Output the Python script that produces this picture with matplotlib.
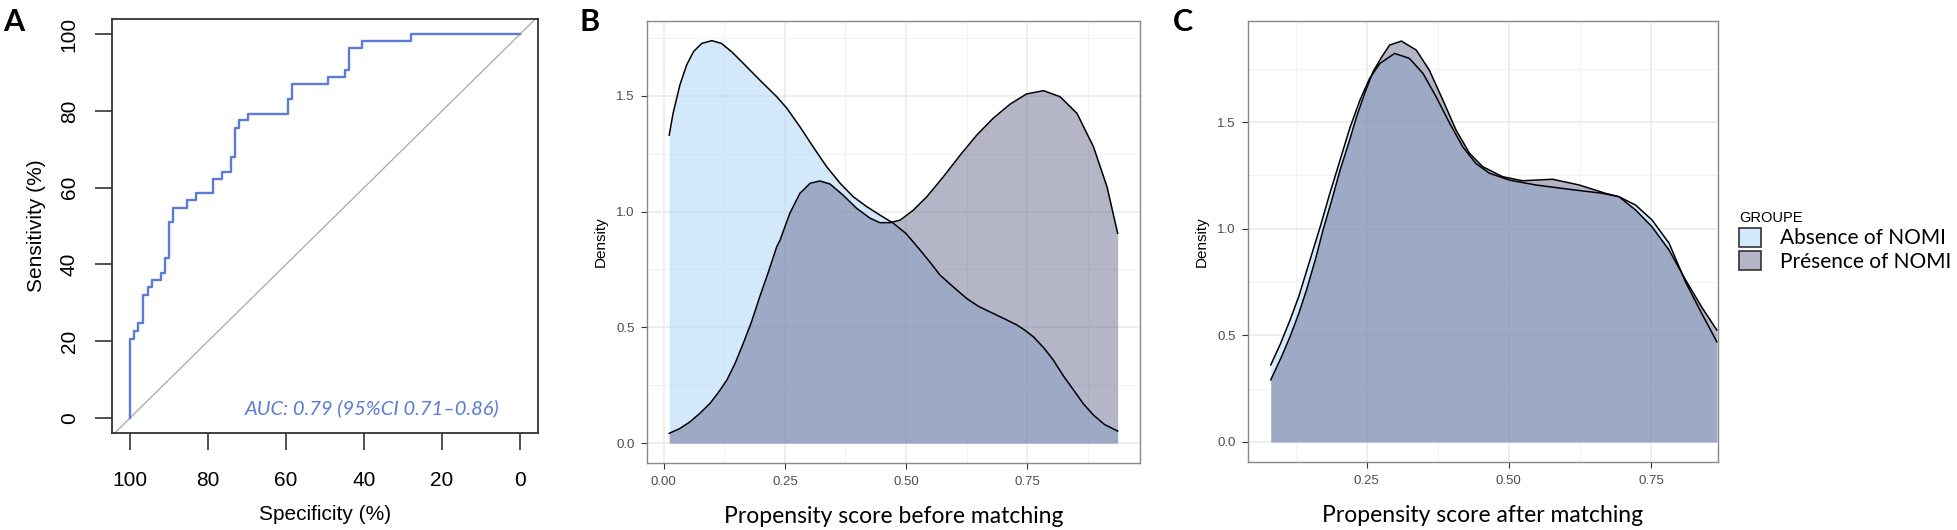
import matplotlib
matplotlib.use('Agg')
import matplotlib.pyplot as plt
from matplotlib.patches import Patch
from matplotlib.colors import to_rgba

# ROC curve (panel A), step corners
spec = [100, 100, 98.9, 97.9, 96.6, 95.5, 94.3, 92.1, 91.0, 89.9, 88.9, 85.5, 83.1, 78.6,
        76.5, 74.2, 73.0, 72.0, 69.7, 59.6, 58.5, 49.3, 45.0, 43.8, 40.4, 28.0, 0]
sens = [0, 20.7, 22.7, 24.7, 32.0, 34.0, 35.9, 37.8, 41.6, 51.0, 54.8, 56.7, 58.5, 62.2,
        64.1, 68.0, 75.6, 77.6, 79.3, 83.1, 86.9, 88.7, 90.6, 96.3, 98.2, 100, 100]
auc_text = 'AUC: 0.79 (95%CI 0.71–0.86)'

# panel B: densities before matching
b_abs_x = [0.011, 0.019, 0.033, 0.047, 0.061, 0.078, 0.099, 0.119, 0.140, 0.164, 0.198, 0.233,
           0.254, 0.281, 0.308, 0.336, 0.364, 0.391, 0.419, 0.446, 0.474, 0.500, 0.529, 0.550,
           0.570, 0.600, 0.625, 0.650, 0.680, 0.705, 0.729, 0.745, 0.763, 0.785, 0.804, 0.825,
           0.846, 0.866, 0.887, 0.910, 0.937]
b_abs_y = [1.330, 1.424, 1.546, 1.633, 1.690, 1.726, 1.738, 1.726, 1.690, 1.640, 1.568, 1.496,
           1.446, 1.366, 1.280, 1.194, 1.122, 1.064, 1.021, 0.985, 0.949, 0.905, 0.834, 0.780,
           0.726, 0.670, 0.625, 0.590, 0.560, 0.535, 0.510, 0.488, 0.459, 0.410, 0.359, 0.290,
           0.229, 0.170, 0.121, 0.080, 0.052]
b_pre_x = [0.011, 0.033, 0.054, 0.074, 0.095, 0.112, 0.130, 0.147, 0.164, 0.181, 0.198, 0.216,
           0.233, 0.240, 0.260, 0.281, 0.302, 0.322, 0.343, 0.370, 0.398, 0.426, 0.446, 0.467,
           0.488, 0.515, 0.543, 0.577, 0.612, 0.646, 0.680, 0.715, 0.749, 0.784, 0.818, 0.853,
           0.887, 0.915, 0.937]
b_pre_y = [0.042, 0.063, 0.092, 0.128, 0.171, 0.217, 0.272, 0.344, 0.431, 0.524, 0.632, 0.740,
           0.848, 0.877, 0.992, 1.079, 1.122, 1.132, 1.119, 1.071, 1.014, 0.971, 0.952, 0.952,
           0.963, 1.006, 1.064, 1.150, 1.244, 1.330, 1.403, 1.464, 1.508, 1.522, 1.496, 1.424,
           1.280, 1.107, 0.906]

# panel C: densities after matching
c_abs_x = [0.081, 0.098, 0.115, 0.130, 0.150, 0.168, 0.185, 0.203, 0.220, 0.238, 0.255, 0.273,
           0.299, 0.325, 0.349, 0.372, 0.396, 0.419, 0.442, 0.466, 0.501, 0.548, 0.606, 0.665,
           0.694, 0.723, 0.752, 0.782, 0.811, 0.840, 0.866]
c_abs_y = [0.361, 0.460, 0.572, 0.680, 0.853, 1.009, 1.166, 1.322, 1.471, 1.603, 1.705, 1.775,
           1.822, 1.799, 1.728, 1.619, 1.494, 1.384, 1.306, 1.260, 1.228, 1.205, 1.185, 1.166,
           1.150, 1.111, 1.041, 0.932, 0.750, 0.600, 0.470]
c_pre_x = [0.081, 0.100, 0.115, 0.130, 0.144, 0.160, 0.173, 0.188, 0.203, 0.218, 0.232, 0.247,
           0.261, 0.275, 0.290, 0.311, 0.337, 0.360, 0.384, 0.407, 0.431, 0.454, 0.489, 0.524,
           0.577, 0.624, 0.670, 0.694, 0.723, 0.752, 0.782, 0.811, 0.840, 0.866]
c_pre_y = [0.291, 0.400, 0.494, 0.600, 0.713, 0.860, 0.994, 1.130, 1.275, 1.400, 1.525, 1.640,
           1.736, 1.800, 1.861, 1.880, 1.838, 1.744, 1.603, 1.463, 1.353, 1.291, 1.244, 1.225,
           1.232, 1.205, 1.166, 1.150, 1.088, 1.009, 0.900, 0.760, 0.630, 0.525]

groups = ['Absence of NOMI', 'Présence of NOMI']
col_abs = '#A9D3F7'
col_pre = '#6A6C91'
alpha = 0.5

ARIAL = 'Liberation Sans'
CAL = 'Lato'

fig = plt.figure(figsize=(19.58, 5.30), dpi=100)

# ---- A : ROC ----
axA = fig.add_axes([0.0572, 0.183, 0.2176, 0.781])
axA.plot([110, -10], [-10, 110], color='#A8A8A8', lw=0.9, zorder=1)
axA.plot(spec, sens, drawstyle='steps-post', color='#5B7BD5', lw=1.7, zorder=2)
axA.set_xlim(104.6, -4.6)
axA.set_ylim(-3.9, 103.9)
axA.set_xticks(range(100, -1, -20))
axA.set_yticks(range(0, 101, 20))
axA.tick_params(direction='out', length=12, width=1.2, labelsize=15, pad=12, color='#333333')
axA.tick_params(axis='x', pad=15)
axA.tick_params(axis='y', labelrotation=90)
for lbl in axA.get_yticklabels():
    lbl.set_va('center')
for lbl in axA.get_xticklabels() + axA.get_yticklabels():
    lbl.set_family(ARIAL)
for s in axA.spines.values():
    s.set_color('#333333')
    s.set_linewidth(1.3)
axA.set_xlabel('Specificity (%)', family=ARIAL, fontsize=15, labelpad=11)
axA.set_ylabel('Sensitivity (%)', family=ARIAL, fontsize=15, labelpad=10)
axA.text(37.9, 2.6, auc_text, color='#5B7BD5', fontsize=14.5, family=CAL, style='italic',
         ha='center', va='center')


def density_panel(ax, ax_x, ay, px, py, xlim, ylim, xticks, xlabels, minor_x, xlab):
    ax.fill_between(ax_x, 0, ay, color=col_abs, alpha=alpha, lw=0, zorder=2)
    ax.plot(ax_x, ay, color='black', lw=1.1, zorder=4)
    ax.fill_between(px, 0, py, color=col_pre, alpha=alpha, lw=0, zorder=3)
    ax.plot(px, py, color='black', lw=1.1, zorder=4)
    ax.set_xlim(*xlim)
    ax.set_ylim(*ylim)
    ax.set_xticks(xticks)
    ax.set_xticklabels(xlabels)
    ax.set_yticks([0, 0.5, 1.0, 1.5])
    ax.set_yticklabels(['0.0', '0.5', '1.0', '1.5'])
    ax.set_xticks(minor_x, minor=True)
    ax.set_yticks([0.25, 0.75, 1.25, 1.75], minor=True)
    ax.grid(which='major', color='#EBEBEB', lw=1.2, zorder=0)
    ax.grid(which='minor', color='#F2F2F2', lw=0.7, zorder=0)
    ax.set_axisbelow(True)
    ax.tick_params(which='major', length=4, width=0.8, color='#333333',
                   labelsize=9.5, labelcolor='#4D4D4D', pad=5)
    ax.tick_params(which='minor', length=0)
    for lbl in ax.get_xticklabels() + ax.get_yticklabels():
        lbl.set_family(ARIAL)
    for s in ax.spines.values():
        s.set_color('#888888')
        s.set_linewidth(1.0)
    ax.set_ylabel('Density', family=ARIAL, fontsize=11, labelpad=6)
    ax.set_xlabel(xlab, family=CAL, fontsize=16.5, labelpad=13)


axB = fig.add_axes([0.3304, 0.1264, 0.2518, 0.834])
density_panel(axB, b_abs_x, b_abs_y, b_pre_x, b_pre_y, (-0.035, 0.983), (-0.086, 1.823),
              [0, 0.25, 0.5, 0.75], ['0.00', '0.25', '0.50', '0.75'],
              [0.125, 0.375, 0.625, 0.875], 'Propensity score before matching')

axC = fig.add_axes([0.6374, 0.1283, 0.2400, 0.832])
density_panel(axC, c_abs_x, c_abs_y, c_pre_x, c_pre_y, (0.041, 0.868), (-0.094, 1.974),
              [0.25, 0.5, 0.75], ['0.25', '0.50', '0.75'],
              [0.125, 0.375, 0.625], 'Propensity score after matching')

# legend
handles = [Patch(facecolor=to_rgba(col_abs, alpha), edgecolor='#333333', lw=1.2),
           Patch(facecolor=to_rgba(col_pre, alpha), edgecolor='#333333', lw=1.2)]
leg = fig.legend(handles, groups, title='GROUPE', loc='upper left',
                 bbox_to_anchor=(1739 / 1958, 1 - 211 / 530), frameon=False,
                 prop={'family': CAL, 'size': 15}, handlelength=1.07, handleheight=1.07,
                 labelspacing=0.12, handletextpad=0.9, borderaxespad=0, borderpad=0,
                 alignment='left')
leg.get_title().set_fontfamily(ARIAL)
leg.get_title().set_fontsize(10.5)

# panel letters
for x, letter in [(3, 'A'), (580, 'B'), (1173, 'C')]:
    fig.text(x / 1958, 1 - 8 / 530, letter, fontsize=22, fontweight='bold', family=CAL,
             ha='left', va='top')

fig.savefig('out.png', dpi=100)
